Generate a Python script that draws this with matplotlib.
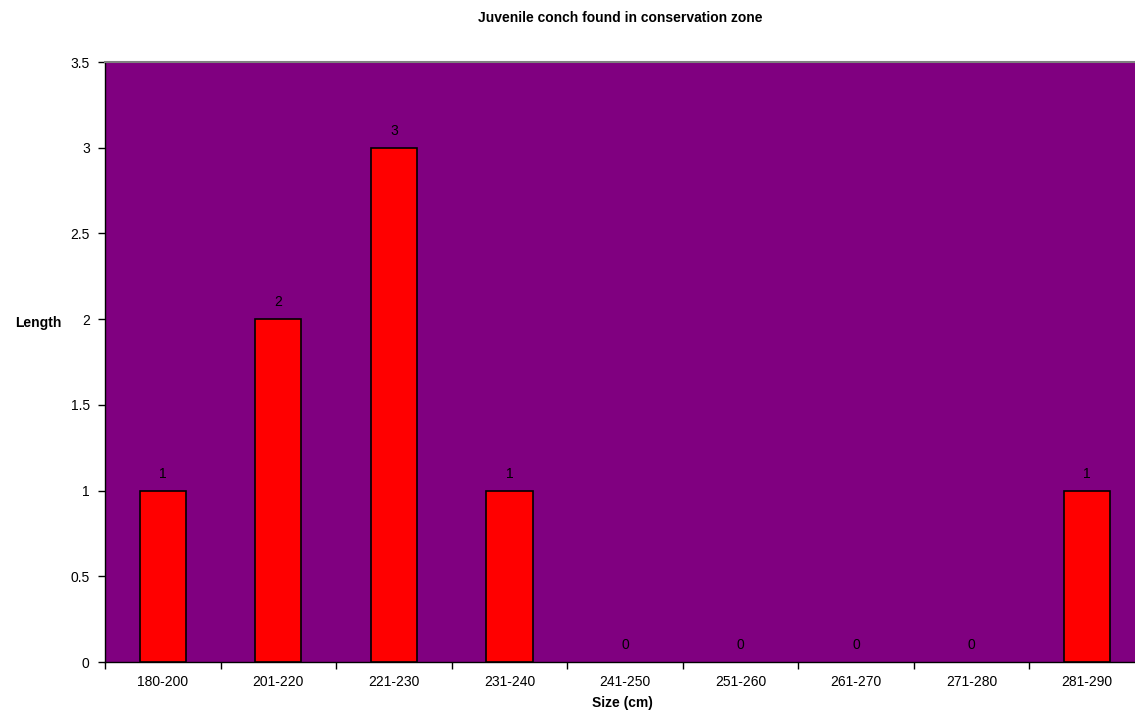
import matplotlib
matplotlib.use("Agg")
import matplotlib.pyplot as plt
import numpy as np

categories = ["180-200", "201-220", "221-230", "231-240", "241-250",
              "251-260", "261-270", "271-280", "281-290"]
counts = [1, 2, 3, 1, 0, 0, 0, 0, 1]
yticks = [0, 0.5, 1, 1.5, 2, 2.5, 3, 3.5]
ytick_labels = ["0", "0.5", "1", "1.5", "2", "2.5", "3", "3.5"]

plt.rcParams['font.family'] = ['Liberation Sans', 'DejaVu Sans']

W, H = 1135, 725
fig = plt.figure(figsize=(W / 100, H / 100), dpi=100)
left, right, top, bottom = 105, 1145, 62, 662
ax = fig.add_axes([left / W, (H - bottom) / H, (right - left) / W, (bottom - top) / H])
ax.set_facecolor('#800080')

x = np.arange(len(categories))
lws = [1.2 if v > 0 else 0 for v in counts]
bars = ax.bar(x, counts, width=0.4, color='#FF0000', edgecolor='black', linewidth=lws, zorder=3)
for xi, v in zip(x, counts):
    ax.annotate(str(v), (xi, v), xytext=(0, 7), textcoords='offset points',
                ha='center', va='bottom', fontsize=10, color='black')

ax.set_xlim(-0.5, len(categories) - 0.5)
ax.set_ylim(0, 3.5)
ax.set_yticks(yticks)
ax.set_yticklabels(ytick_labels, fontsize=10)
ax.set_xticks(x)
ax.set_xticklabels(categories, fontsize=10)
ax.set_xticks(np.arange(len(categories) + 1) - 0.5, minor=True)
ax.tick_params(axis='x', which='major', length=0, pad=9)
ax.tick_params(axis='x', which='minor', length=5, width=1, color='black', direction='out')
ax.tick_params(axis='y', length=5, width=1, color='black', pad=6)

for s in ['left', 'bottom']:
    ax.spines[s].set_color('black')
    ax.spines[s].set_linewidth(1)
ax.spines['top'].set_color('#808080')
ax.spines['top'].set_linewidth(1.5)
ax.spines['right'].set_visible(False)

fig.text(620 / W, 1 - 18 / H, "Juvenile conch found in conservation zone",
         ha='center', va='center', fontsize=10, fontweight='bold')
fig.text(38 / W, 1 - 323 / H, "Length", ha='center', va='center',
         fontsize=10, fontweight='bold')
fig.text(622 / W, 1 - 703 / H, "Size (cm)", ha='center', va='center',
         fontsize=10, fontweight='bold')

fig.savefig("out.png", dpi=100)
